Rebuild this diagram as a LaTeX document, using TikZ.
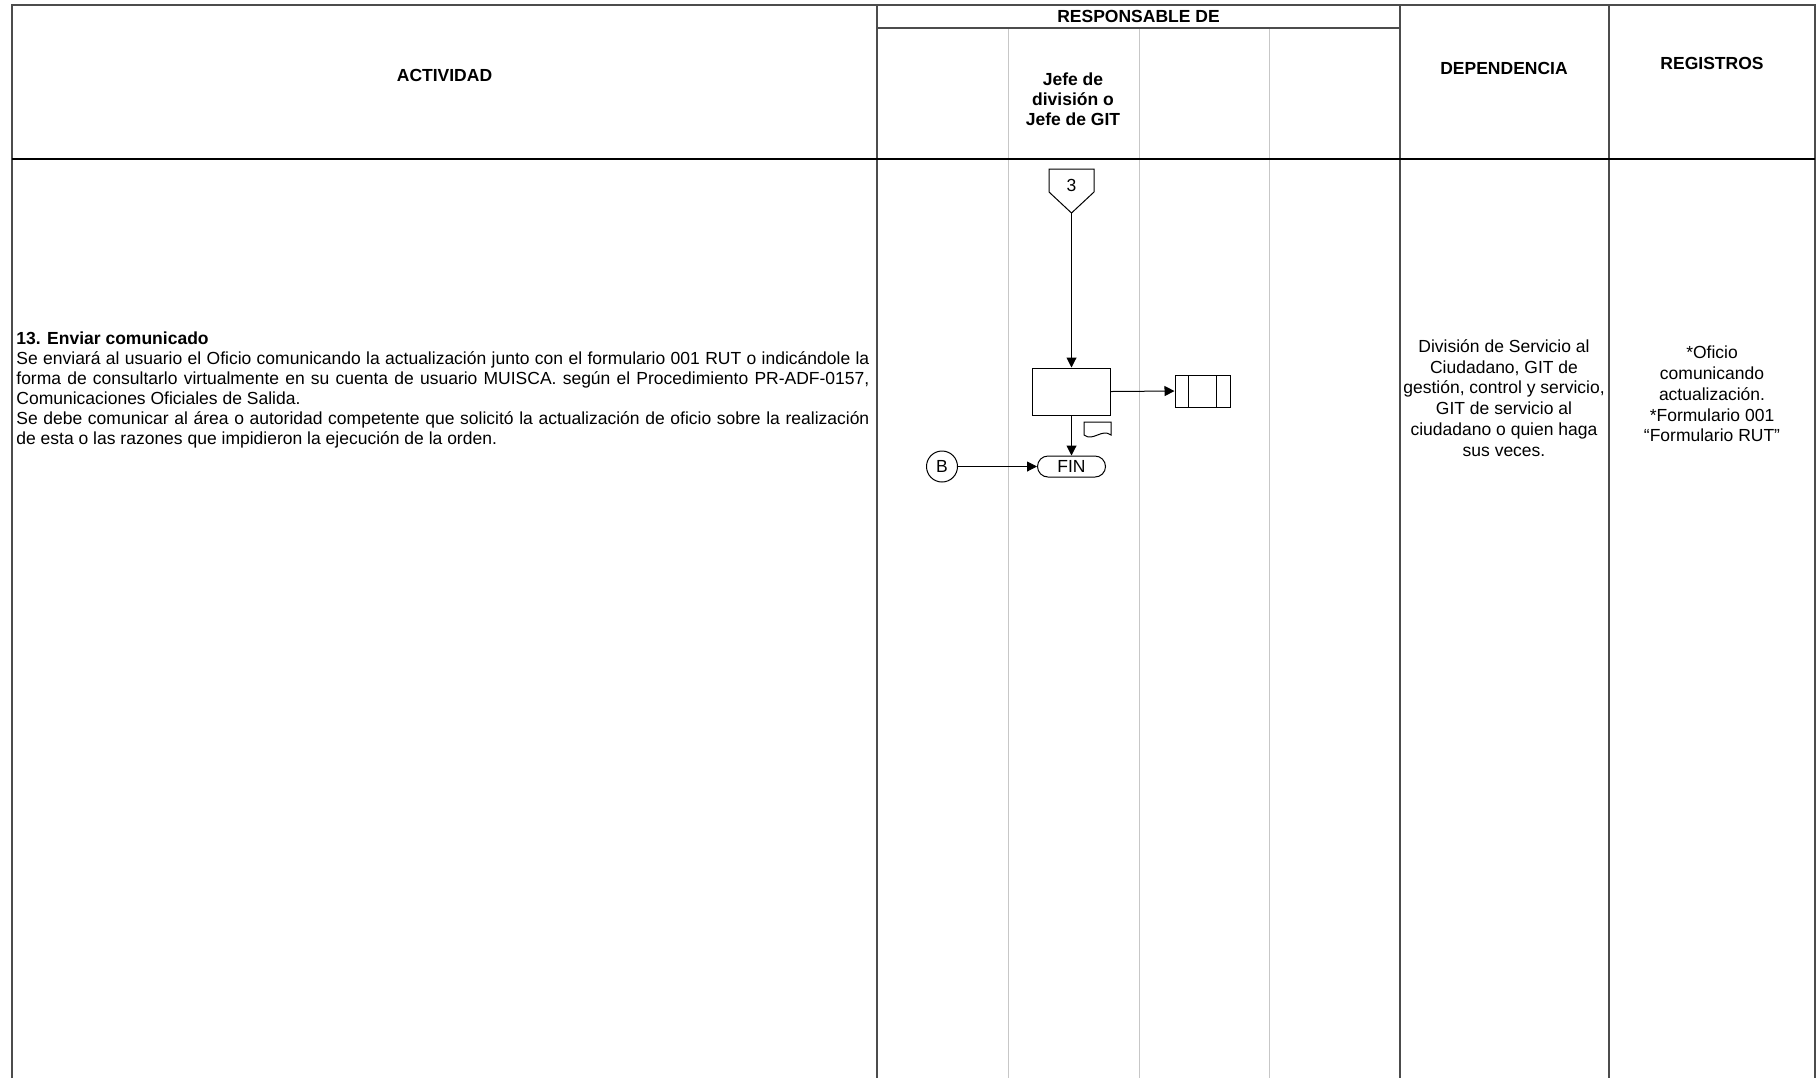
\documentclass[tikz,border=0pt]{standalone}
\usepackage{fontspec}
\setmainfont{Liberation Sans}
\usetikzlibrary{arrows.meta,positioning}

\begin{document}
\begin{tikzpicture}[x=0.5pt,y=-0.5pt,
    frame/.style={draw=black!70,line width=0.65pt},
    lane/.style={draw=black!22,line width=0.5pt},
    head/.style={font=\fontsize{8.75}{10}\selectfont\bfseries,align=center,inner sep=0pt},
    cell/.style={font=\fontsize{8.75}{10.4}\selectfont,align=center,inner sep=0pt},
    flow/.style={-{Triangle[length=5pt,width=5pt]},line width=0.5pt},
    proc/.style={draw,line width=0.5pt,minimum width=39pt,minimum height=23.5pt,inner sep=0pt},
    store/.style={draw,line width=0.5pt,minimum width=27.5pt,minimum height=16pt,inner sep=0pt,
      path picture={
        \draw[line width=0.5pt] ([xshift=6.5pt]path picture bounding box.north west) -- ([xshift=6.5pt]path picture bounding box.south west);
        \draw[line width=0.5pt] ([xshift=-7pt]path picture bounding box.north east) -- ([xshift=-7pt]path picture bounding box.south east);}},
    term/.style={draw,line width=0.5pt,rounded corners=5.25pt,minimum width=34pt,minimum height=10.5pt,inner sep=0pt,font=\fontsize{8.75}{9}\selectfont},
    conn/.style={draw,circle,line width=0.5pt,minimum size=15.5pt,inner sep=0pt,font=\fontsize{8.75}{9}\selectfont}]
    \useasboundingbox (0,0) rectangle (1820,1078);

    % Define the corners of the table: columns and lanes
    \coordinate (L) at (12,5);
    \coordinate (R) at (1815,5);

    % Lanes of RESPONSABLE DE (light grey)
    \foreach \lx in {1008,1139,1269}
        \draw[lane] (\lx,28) -- (\lx,1078);

    % Frame and column lines
    \draw[frame] (12,1078) -- (L) -- (R) -- (1815,1078);
    \draw[frame] (877,5) -- (877,1078);
    \draw[frame] (1400,5) -- (1400,1078);
    \draw[frame] (1609,5) -- (1609,1078);
    \draw[frame] (877,28) -- (1400,28);
    \draw[line width=0.6pt] (12,159) -- (1815,159); % end of the header

    % Header labels
    \node (hact) at (444.5,75) [head] {ACTIVIDAD};
    \node (hres) at (1138.5,16) [head] {RESPONSABLE DE};
    \node (hjefe) at (1073,99) [head] {Jefe de\\división o\\Jefe de GIT};
    \node (hdep) at (1504,68.5) [head] {DEPENDENCIA};
    \node (hreg) at (1712,63) [head] {REGISTROS};

    % Activity text
    \node (txt) at (16,331) [anchor=north west,inner sep=0pt,text width=426.5pt,align=justify,font=\fontsize{8.75}{10}\selectfont]
        {\textbf{13. Enviar comunicado}\\
         Se enviará al usuario el Oficio comunicando la actualización junto con el formulario 001 RUT o indicándole la\linebreak
         forma de consultarlo virtualmente en su cuenta de usuario MUISCA. según el Procedimiento PR-ADF-0157,\linebreak
         Comunicaciones Oficiales de Salida.\\
         Se debe comunicar al área o autoridad competente que solicitó la actualización de oficio sobre la realización\linebreak
         de esta o las razones que impidieron la ejecución de la orden.};

    % Dependencia and registros
    \node (dep) at (1504,398) [cell] {División de Servicio al\\Ciudadano, GIT de\\gestión, control y servicio,\\GIT de servicio al\\ciudadano o quien haga\\sus veces.};
    \node (rgs) at (1712,394) [cell] {*Oficio\\comunicando\\actualización.\\*Formulario 001\\“Formulario RUT”};

    % Off-page connector 3
    \draw[line width=0.5pt] (1049,169) -- (1094,169) -- (1094,192) -- (1071.5,213) -- (1049,192) -- cycle;
    \node (p3) at (1071.5,185) [font=\fontsize{8.75}{9}\selectfont,inner sep=0pt] {3};
    \coordinate (p3tip) at (1071.5,213);

    % Flow symbols
    \node (act) at (1071.5,391.5) [proc] {};
    \node (arch) at (1202.5,391) [store] {};
    \node (fin) at (1071.5,466.5) [term] {FIN};
    \node (conB) at (942,466.5) [conn] {B};

    % Document symbol under the activity
    \draw[line width=0.5pt] (1084,422) -- (1084,435) .. controls (1093,442) and (1102,428) .. (1111,435) -- (1111,422) -- cycle;

    % Connectors
    \draw[flow] (p3tip) -- (act.north);
    \draw[flow] (act.east) -- (arch.west);
    \draw[flow] (act.south) -- (fin.north);
    \draw[flow] (conB.east) -- (fin.west);
\end{tikzpicture}
\end{document}
